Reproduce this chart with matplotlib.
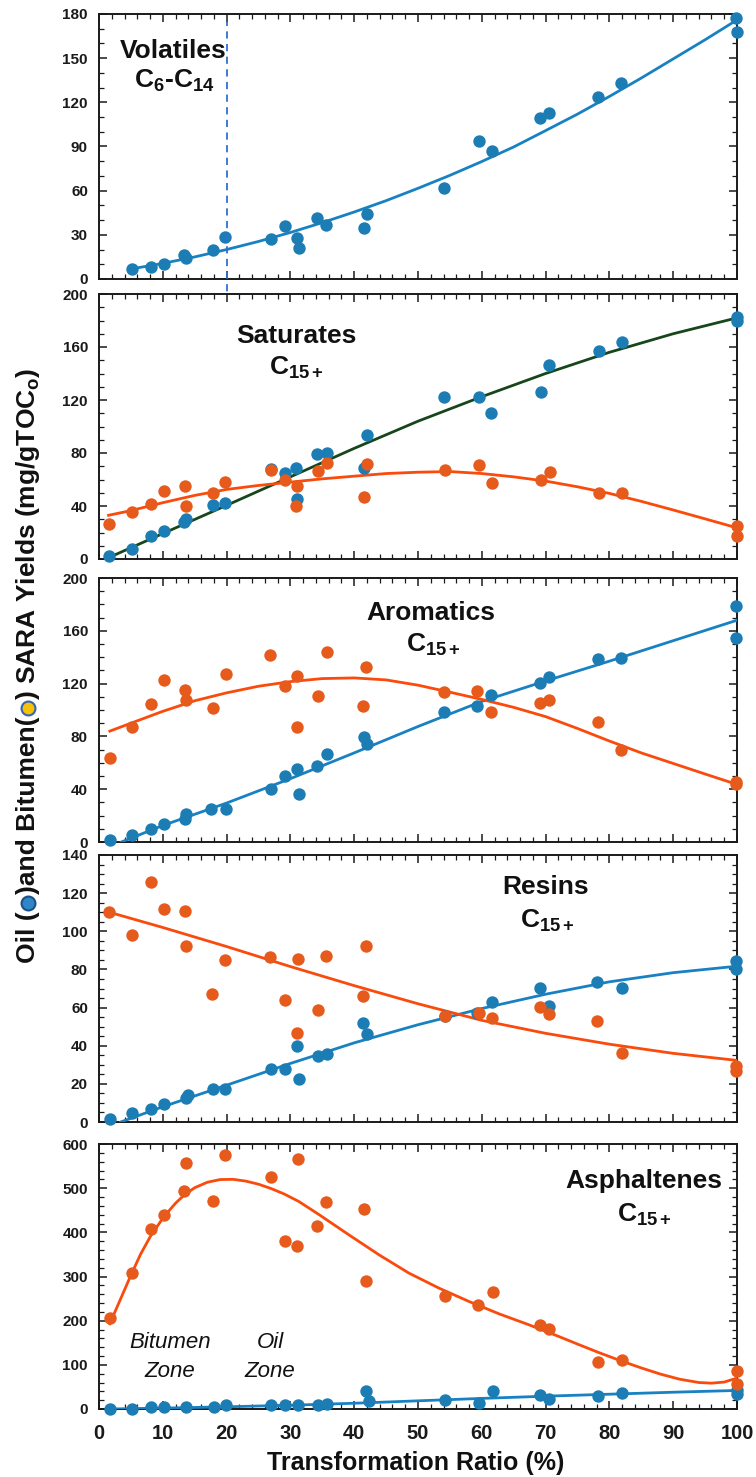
import matplotlib
matplotlib.use("Agg")
import matplotlib.pyplot as plt
from matplotlib.lines import Line2D
from matplotlib.ticker import MultipleLocator

plt.rcParams['font.family'] = ['Liberation Sans', 'DejaVu Sans']
plt.rcParams['mathtext.fontset'] = 'custom'
plt.rcParams['mathtext.rm'] = 'Liberation Sans'
plt.rcParams['mathtext.bf'] = 'Liberation Sans:bold'
plt.rcParams['mathtext.it'] = 'Liberation Sans:italic'

# ---------------- data ----------------
# Volatiles C6-C14 (oil only)
vol_oil_x = [5.1, 8.1, 10.2, 13.3, 13.7, 17.8, 19.7, 26.9, 29.2, 31.0, 31.3, 34.2, 35.6, 41.5, 42.0,
             54.1, 59.5, 61.6, 69.1, 70.5, 78.2, 81.8, 99.9, 100.0]
vol_oil_y = [6.6, 8.4, 10.2, 16.0, 14.5, 19.9, 28.7, 27.0, 36.0, 27.8, 20.8, 41.2, 36.7, 34.9, 44.4,
             62.0, 93.8, 87.2, 109.1, 113.0, 123.6, 133.4, 177.0, 167.6]
vol_fit_x = [5, 10, 15, 20, 25, 30, 35, 40, 45, 50, 55, 60, 65, 70, 75, 80, 85, 90, 95, 100]
vol_fit_y = [6.8, 10.6, 15.0, 20.0, 25.5, 31.6, 38.3, 45.5, 53.2, 61.6, 70.4, 79.8, 89.7, 100.8,
             112.0, 124.0, 136.5, 149.5, 162.5, 176.0]

# Saturates C15+
sat_oil_x = [1.5, 5.2, 8.2, 10.2, 13.3, 13.7, 17.8, 19.7, 27.0, 29.2, 30.9, 31.0, 34.2, 35.7, 41.5, 42.0,
             54.1, 59.5, 61.5, 69.3, 70.6, 78.3, 81.9, 100.0, 100.0]
sat_oil_y = [2.0, 7.6, 17.4, 21.5, 28.0, 30.0, 41.0, 42.4, 68.3, 65.0, 68.8, 45.6, 78.9, 80.2, 68.8, 93.3,
             122.6, 122.6, 110.0, 126.0, 146.3, 156.9, 163.4, 183.0, 179.7]
sat_bit_x = [1.5, 5.2, 8.2, 10.2, 13.5, 13.7, 17.8, 19.7, 26.9, 29.2, 31.0, 30.9, 34.3, 35.7, 42.0, 41.5,
             54.2, 59.5, 61.6, 69.3, 70.7, 78.3, 82.0, 100.0, 100.0]
sat_bit_y = [26.7, 35.6, 41.6, 51.5, 55.0, 39.8, 49.8, 58.1, 66.9, 59.8, 55.0, 40.2, 66.6, 72.7, 71.7, 46.6,
             66.9, 71.2, 57.3, 59.8, 65.4, 49.8, 49.8, 24.8, 17.3]
sat_oil_fit_x = [1.5, 10, 20, 30, 40, 50, 60, 70, 80, 90, 100]
sat_oil_fit_y = [1.0, 19.2, 40.5, 62.0, 83.5, 104.0, 122.5, 140.0, 156.0, 170.0, 182.0]
sat_bit_fit_x = [1.5, 5, 10, 15, 20, 25, 30, 35, 40, 45, 50, 55, 60, 65, 70, 75, 80, 85, 90, 95, 100]
sat_bit_fit_y = [33.0, 36.5, 42.5, 48.0, 52.5, 55.5, 58.0, 60.5, 62.5, 64.5, 65.5, 66.0, 64.5, 62.0,
                 58.8, 54.5, 49.5, 43.5, 37.0, 30.3, 23.5]

# Aromatics C15+
aro_oil_x = [1.7, 5.2, 8.2, 10.2, 13.5, 13.7, 17.6, 19.9, 26.9, 29.2, 31.0, 31.3, 34.2, 35.7, 41.6, 42.0,
             54.1, 59.3, 61.5, 69.2, 70.6, 78.2, 81.8, 99.9, 99.9]
aro_oil_y = [1.3, 5.6, 9.9, 14.0, 17.8, 21.0, 25.3, 25.3, 39.8, 49.9, 55.2, 36.2, 57.7, 66.6, 79.7, 74.2,
             98.7, 103.3, 111.4, 120.2, 125.3, 138.4, 139.7, 178.9, 154.3]
aro_bit_x = [1.7, 5.2, 8.2, 10.2, 13.5, 13.7, 17.8, 19.9, 26.8, 29.1, 31.1, 31.0, 34.3, 35.7, 41.9, 41.4,
             54.1, 59.3, 61.5, 69.2, 70.6, 78.2, 81.8, 99.9, 99.9]
aro_bit_y = [63.3, 87.4, 104.4, 122.8, 115.2, 107.6, 101.8, 127.2, 141.8, 118.3, 125.9, 87.4, 110.6, 143.8,
             132.4, 103.2, 113.4, 114.7, 98.3, 105.4, 107.4, 90.6, 69.4, 44.0, 45.5]
aro_oil_fit_x = [3.5, 10, 20, 30, 40, 50, 60, 70, 80, 90, 100]
aro_oil_fit_y = [0.0, 12.5, 29.5, 48.0, 67.5, 87.5, 106.5, 122.0, 137.0, 152.5, 168.0]
aro_bit_fit_x = [1.7, 5, 10, 15, 20, 25, 30, 35, 40, 45, 50, 55, 60, 65, 70, 75, 80, 85, 90, 95, 100]
aro_bit_fit_y = [84.0, 90.0, 99.0, 107.0, 113.0, 118.0, 121.5, 123.8, 124.3, 122.8, 118.8, 113.5, 108.0,
                 102.0, 95.0, 86.0, 76.5, 67.5, 59.5, 51.5, 43.6]

# Resins C15+
res_oil_x = [1.8, 5.2, 8.2, 10.2, 13.6, 13.9, 17.8, 19.7, 26.9, 29.1, 31.0, 31.3, 34.3, 35.7, 41.4, 42.0,
             54.2, 59.3, 61.6, 69.1, 70.6, 78.1, 81.9, 99.9, 99.9]
res_oil_y = [1.4, 4.7, 7.0, 9.3, 12.8, 14.0, 17.5, 17.2, 28.0, 28.0, 39.7, 22.8, 34.5, 35.9, 51.7, 45.9,
             55.7, 57.0, 63.0, 70.3, 60.9, 73.5, 70.3, 84.5, 80.1]
res_bit_x = [1.6, 5.2, 8.2, 10.2, 13.5, 13.7, 17.7, 19.7, 26.8, 29.1, 31.2, 31.0, 34.3, 35.6, 41.9, 41.4,
             54.2, 59.5, 61.6, 69.1, 70.5, 78.1, 81.9, 99.9, 99.9]
res_bit_y = [109.9, 98.0, 126.0, 111.5, 110.6, 92.3, 67.1, 85.2, 86.3, 63.9, 85.4, 46.9, 58.8, 87.1,
             92.4, 66.3, 55.6, 57.2, 54.3, 60.4, 56.5, 52.9, 36.2, 29.2, 26.8]
res_oil_fit_x = [3.4, 10, 20, 30, 40, 50, 60, 70, 80, 90, 100]
res_oil_fit_y = [0.0, 8.0, 19.3, 30.7, 41.5, 51.0, 59.5, 67.0, 73.5, 78.3, 81.7]
res_bit_fit_x = [1.6, 10, 20, 30, 40, 50, 60, 70, 80, 90, 100]
res_bit_fit_y = [110.0, 102.0, 92.0, 81.5, 71.5, 62.0, 53.3, 46.5, 40.8, 36.0, 32.3]

# Asphaltenes C15+
asp_oil_x = [1.8, 5.2, 8.2, 10.2, 13.7, 18.0, 19.9, 27.0, 29.2, 31.2, 34.3, 35.7, 41.9, 42.3,
             54.3, 59.5, 61.7, 69.2, 70.6, 78.2, 82.0, 100.0, 100.0]
asp_oil_y = [0.0, 0.0, 4.5, 4.5, 4.5, 4.5, 8.0, 8.0, 8.0, 8.0, 8.0, 12.0, 39.8, 17.2,
             19.6, 13.6, 40.0, 32.3, 22.6, 30.1, 36.2, 43.7, 34.7]
asp_bit_x = [1.7, 5.1, 8.1, 10.2, 13.7, 13.4, 17.9, 19.7, 26.9, 29.1, 31.0, 31.2, 34.2, 35.6, 41.5, 41.9,
             54.2, 59.4, 61.7, 69.2, 70.6, 78.2, 81.9, 100.0, 100.0]
asp_bit_y = [205, 307, 407, 440, 558, 494, 471, 575, 526, 381, 368, 566, 415, 468, 453, 290,
             256, 234.5, 264, 191, 181, 106.6, 110.2, 85.3, 56.8]
asp_oil_fit_x = [1.7, 10, 20, 30, 40, 50, 60, 70, 80, 90, 100]
asp_oil_fit_y = [0.0, 2.0, 5.0, 8.5, 13.0, 18.5, 24.0, 29.0, 33.5, 38.0, 42.0]
asp_bit_fit_x = [1.7, 2.5, 3.5, 5, 6.5, 8.1, 10.2, 12, 13.4, 15, 17, 19, 21, 23, 25, 27, 29, 31.3,
                 34.5, 39.2, 43.9, 48.6, 53.3, 58, 62.7, 67.4, 72.1, 75, 78.3, 82, 85, 88, 91, 94,
                 96, 98, 100]
asp_bit_fit_y = [193, 220, 253, 303, 350, 392, 436, 466, 485, 501, 513.5, 519.5, 520, 516, 509, 499,
                 487, 470, 440, 394, 349, 307.5, 273.6, 243.4, 215.5, 190.6, 164, 147, 128, 108, 93,
                 79, 67.5, 60, 58.5, 61, 70]

panel_titles = ["Volatiles", "Saturates", "Aromatics", "Resins", "Asphaltenes"]
panel_subs = ["C$_\\mathbf{6}$-C$_\\mathbf{14}$", "C$_\\mathbf{15+}$", "C$_\\mathbf{15+}$",
              "C$_\\mathbf{15+}$", "C$_\\mathbf{15+}$"]
y_limits = [180, 200, 200, 140, 600]
y_major = [30, 40, 40, 20, 100]
y_minor = [10, 10, 10, 5, 20]
x_ticks = [0, 10, 20, 30, 40, 50, 60, 70, 80, 90, 100]

# ---------------- style ----------------
W, H = 756, 1477
BLUE_DOT = '#1c7db5'
ORANGE_DOT = '#e65a1c'
BLUE_LINE = '#1881c2'
ORANGE_LINE = '#fa4a0c'
GREEN_LINE = '#17461a'


def fx(px):
    return px / W


def fy(py):
    return 1 - py / H


fig = plt.figure(figsize=(W / 100, H / 100), dpi=100)

# panel pixel boxes (top, bottom)
boxes = [(14, 279), (294, 559), (578, 842), (855, 1122), (1144, 1409)]
left_px, right_px = 99, 737
axes = []
for (top, bot) in boxes:
    ax = fig.add_axes([fx(left_px), fy(bot), fx(right_px - left_px), (bot - top) / H])
    axes.append(ax)

for i, ax in enumerate(axes):
    ax.set_xlim(0, 100)
    ax.set_ylim(0, y_limits[i])
    ax.set_xticks(x_ticks)
    ax.xaxis.set_minor_locator(MultipleLocator(2))
    ax.yaxis.set_major_locator(MultipleLocator(y_major[i]))
    ax.yaxis.set_minor_locator(MultipleLocator(y_minor[i]))
    ax.tick_params(which='both', direction='in', top=True, right=True, colors='#1a1a1a')
    ax.tick_params(which='major', length=6, width=1.1)
    ax.tick_params(which='minor', length=3.5, width=0.9)
    ax.tick_params(axis='y', labelsize=11, pad=8)
    for lab in ax.get_yticklabels():
        lab.set_fontweight('bold')
    for sp in ax.spines.values():
        sp.set_linewidth(1.4)
        sp.set_color('#1a1a1a')
    if i < 4:
        ax.tick_params(axis='x', labelbottom=False)
    else:
        ax.tick_params(axis='x', labelsize=14.5, pad=11)
        for lab in ax.get_xticklabels():
            lab.set_fontweight('bold')

dot_kw = dict(s=80, zorder=4, clip_on=False, linewidths=0)

# Volatiles
a = axes[0]
a.plot(vol_fit_x, vol_fit_y, color=BLUE_LINE, lw=2.0, zorder=3)
a.scatter(vol_oil_x, vol_oil_y, color=BLUE_DOT, **dot_kw)
a.axvline(20, ymin=-0.095, ymax=0.97, color='#2f6fd0', lw=1.3, ls=(0, (4, 3)), clip_on=False, zorder=5)

# Saturates
a = axes[1]
a.plot(sat_oil_fit_x, sat_oil_fit_y, color=GREEN_LINE, lw=2.0, zorder=3)
a.plot(sat_bit_fit_x, sat_bit_fit_y, color=ORANGE_LINE, lw=2.0, zorder=3)
a.scatter(sat_oil_x, sat_oil_y, color=BLUE_DOT, **dot_kw)
a.scatter(sat_bit_x, sat_bit_y, color=ORANGE_DOT, **dot_kw)

# Aromatics
a = axes[2]
a.plot(aro_oil_fit_x, aro_oil_fit_y, color=BLUE_LINE, lw=2.0, zorder=3)
a.plot(aro_bit_fit_x, aro_bit_fit_y, color=ORANGE_LINE, lw=2.0, zorder=3)
a.scatter(aro_oil_x, aro_oil_y, color=BLUE_DOT, **dot_kw)
a.scatter(aro_bit_x, aro_bit_y, color=ORANGE_DOT, **dot_kw)

# Resins
a = axes[3]
a.plot(res_oil_fit_x, res_oil_fit_y, color=BLUE_LINE, lw=2.0, zorder=3)
a.plot(res_bit_fit_x, res_bit_fit_y, color=ORANGE_LINE, lw=2.0, zorder=3)
a.scatter(res_oil_x, res_oil_y, color=BLUE_DOT, **dot_kw)
a.scatter(res_bit_x, res_bit_y, color=ORANGE_DOT, **dot_kw)

# Asphaltenes
a = axes[4]
a.plot(asp_oil_fit_x, asp_oil_fit_y, color=BLUE_LINE, lw=2.0, zorder=3)
a.plot(asp_bit_fit_x, asp_bit_fit_y, color=ORANGE_LINE, lw=2.0, zorder=3)
a.scatter(asp_oil_x, asp_oil_y, color=BLUE_DOT, **dot_kw)
a.scatter(asp_bit_x, asp_bit_y, color=ORANGE_DOT, **dot_kw)

# ---------------- panel titles ----------------
title_pos = [((173, 58), (174, 88)), ((296, 343), (296, 375)), ((431, 620), (433, 652)),
             ((546, 894), (547, 928)), ((644, 1188), (644, 1222))]
for i, ((tx, ty), (sx, sy)) in enumerate(title_pos):
    fig.text(fx(tx), fy(ty), panel_titles[i], ha='center', va='baseline',
             fontsize=19, fontweight='bold', color='#111111')
    fig.text(fx(sx), fy(sy), panel_subs[i], ha='center', va='baseline',
             fontsize=19, fontweight='bold', color='#111111')

# zone labels
fig.text(fx(170), fy(1348), "Bitumen", ha='center', va='baseline', fontsize=16, style='italic', color='#111111')
fig.text(fx(170), fy(1377), "Zone", ha='center', va='baseline', fontsize=16, style='italic', color='#111111')
fig.text(fx(270), fy(1348), "Oil", ha='center', va='baseline', fontsize=16, style='italic', color='#111111')
fig.text(fx(270), fy(1377), "Zone", ha='center', va='baseline', fontsize=16, style='italic', color='#111111')

# x label
fig.text(fx(416), fy(1470), "Transformation Ratio (%)", ha='center', va='baseline',
         fontsize=18, fontweight='bold', color='#111111')

# ---------------- y label with coloured circles ----------------
fig.canvas.draw()
renderer = fig.canvas.get_renderer()
x_lab = fx(28)
y_cur_px = 963.0
circ_adv = 17.0
pieces = ["Oil (", 'oil', ")and Bitumen(", 'bit', ") SARA Yields (mg/gTOC$_\\mathbf{o}$)"]
for p in pieces:
    if p == 'oil' or p == 'bit':
        cy = y_cur_px - circ_adv / 2
        if p == 'oil':
            mfc, mec = '#2f86c8', '#1d4f86'
        else:
            mfc, mec = '#f5c20a', '#3565b0'
        fig.add_artist(Line2D([x_lab], [fy(cy)], marker='o', ms=10, mfc=mfc, mec=mec, mew=1.5,
                              transform=fig.transFigure))
        y_cur_px -= circ_adv
    else:
        t = fig.text(x_lab, fy(y_cur_px), p, rotation=90, ha='center', va='bottom',
                     fontsize=19, fontweight='bold', color='#111111')
        bb = t.get_window_extent(renderer)
        y_cur_px -= bb.height

fig.savefig("out.png", dpi=100)
